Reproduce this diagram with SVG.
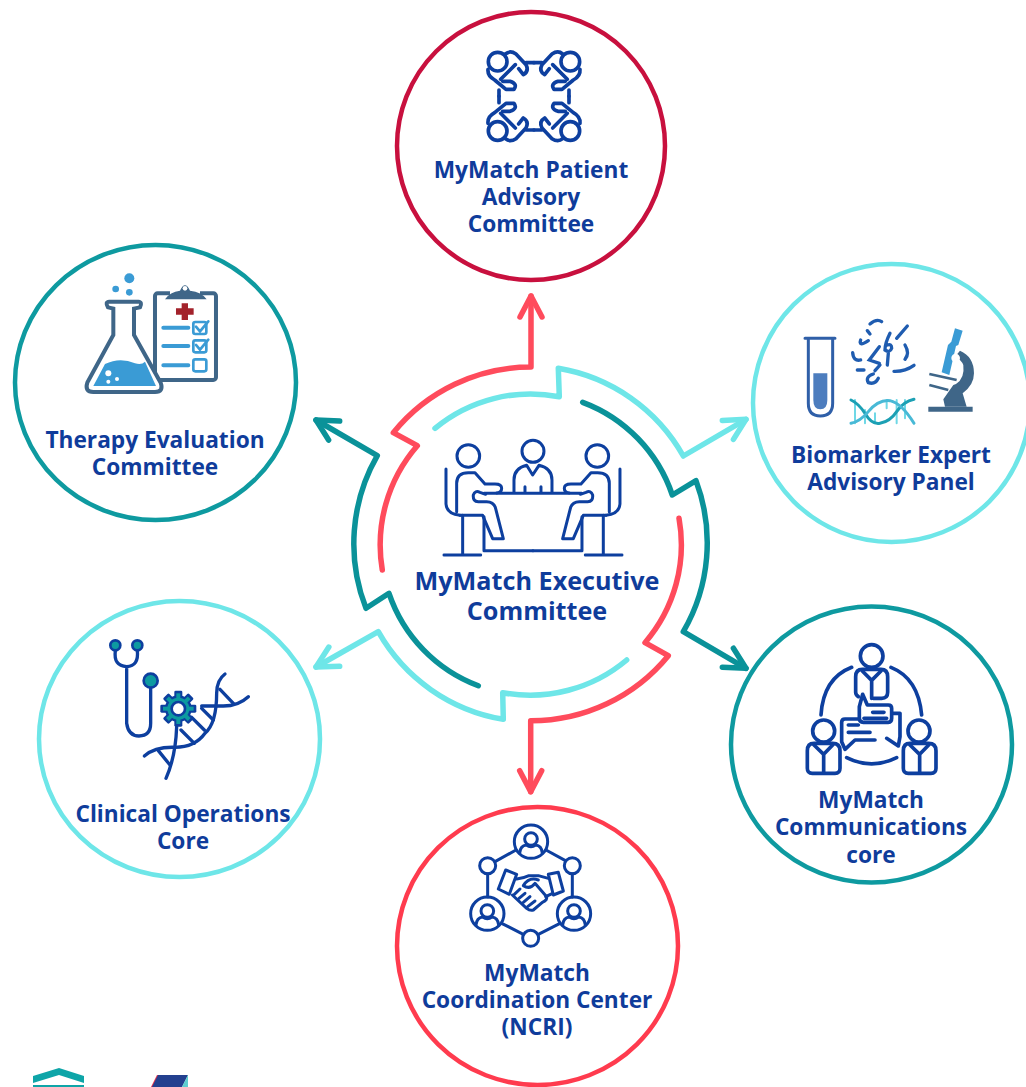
<svg xmlns="http://www.w3.org/2000/svg" width="1026" height="1087" viewBox="0 0 1026 1087">
<style>
.t{font-family:"Open Sans","Liberation Sans",sans-serif;font-weight:700;font-size:22.7px;fill:#0f3c9b;text-anchor:middle}
.c{fill:#fff;stroke-width:4.5}
.r{fill:none;stroke-width:5.5;stroke-linecap:round;stroke-linejoin:round}
.i{fill:none;stroke:#0d3f9f;stroke-linecap:round;stroke-linejoin:round}
.red{stroke:#ff4b5c}.cy{stroke:#6ee6e8}.te{stroke:#0a9299}
</style>
<defs>
<marker id="mr" markerUnits="userSpaceOnUse" viewBox="-30 -16 36 32" markerWidth="36" markerHeight="32" refX="0" refY="0" orient="auto"><path d="M-21,-11L0,0L-21,11" fill="none" stroke="#ff4b5c" stroke-width="5.5" stroke-linecap="round" stroke-linejoin="round"/></marker>
<marker id="mc" markerUnits="userSpaceOnUse" viewBox="-30 -16 36 32" markerWidth="36" markerHeight="32" refX="0" refY="0" orient="auto"><path d="M-21,-11L0,0L-21,11" fill="none" stroke="#6ee6e8" stroke-width="5.5" stroke-linecap="round" stroke-linejoin="round"/></marker>
<marker id="mt" markerUnits="userSpaceOnUse" viewBox="-30 -16 36 32" markerWidth="36" markerHeight="32" refX="0" refY="0" orient="auto"><path d="M-21,-11L0,0L-21,11" fill="none" stroke="#0a9299" stroke-width="5.5" stroke-linecap="round" stroke-linejoin="round"/></marker>
<g id="q1" class="i" stroke-width="11">
<circle cx="113" cy="95" r="28"/>
<path d="M136,72Q150,60 168,72L198,104Q208,124 190,134L176,116"/>
<path d="M84,118Q82,138 104,150L138,178H162Q174,162 150,154H128"/>
<path d="M122,148L166,104"/>
<path d="M198,98H222M117,180V199"/>
</g>
<g id="pl" class="i" stroke-width="9">
<path d="M318,567V672Q320,702 360,706"/>
<path d="M350,695V610Q350,578 385,578H405L435,612H465Q485,612 485,625Q485,638 470,639"/>
<path d="M368,706V825M312,825H422"/>
<path d="M360,706H428L458,776H490L466,682Q460,665 440,665H415Q398,665 400,645Q405,630 420,637L437,643"/>
<path d="M432,710V812H579"/>
</g>
<g id="bp" class="i" stroke-width="11">
<path d="M72,325H128Q150,325 150,347V400Q150,415 135,415H67Q52,415 52,400V347Q52,325 72,325Z"/>
<path d="M72,330L101,358L128,330M101,358V412"/>
</g>
<g id="hp" class="i" stroke-width="9">
<circle cx="0" cy="0" r="50"/><circle cx="0" cy="-8" r="19"/><path d="M-34,34Q-32,12 -14,10Q0,20 14,10Q32,12 34,34"/>
</g>
</defs>

<g id="connectors">
<path class="r red" marker-end="url(#mr)" d="M382.3,570A151,151 0 0 1 417.3,445.7L393.3,432.7A177,177 0 0 1 531,367V296"/>
<path class="r cy" marker-end="url(#mc)" d="M435,428.3A150,150 0 0 1 559.3,396.7L558.3,368.3A177,177 0 0 1 683.3,456L746,419.3"/>
<path class="r te" marker-end="url(#mt)" d="M582.7,402.3A150,150 0 0 1 672.3,495L696,480.7A177,177 0 0 1 683.3,631.7L746,668.3"/>
<path class="r red" marker-end="url(#mr)" d="M679,518.3A150,150 0 0 1 645,642.7L668.3,655.7A177,177 0 0 1 530.7,720.7V791.7"/>
<path class="r cy" marker-end="url(#mc)" d="M626.7,660A150,150 0 0 1 502.7,692.7L503.3,719.3A177,177 0 0 1 378.3,631.7L316,667"/>
<path class="r te" marker-end="url(#mt)" d="M478.3,685.7A150,150 0 0 1 389,593.3L366,608.3A177,177 0 0 1 377.3,455.7L316,420"/>
</g>

<g id="node-patient">
<ellipse class="c" cx="531" cy="146" rx="134" ry="134" stroke="#c8103e"/>
<g transform="translate(460,30) scale(.3333)">
<use href="#q1"/>
<use href="#q1" transform="translate(444,0) scale(-1,1)"/>
<use href="#q1" transform="translate(0,398) scale(1,-1)"/>
<use href="#q1" transform="translate(444,398) scale(-1,-1)"/>
</g>
<text class="t" x="531" y="178">MyMatch Patient<tspan x="531" dy="27">Advisory</tspan><tspan x="531" dy="27">Committee</tspan></text>
</g>

<g id="node-therapy">
<ellipse class="c" cx="155.500" cy="382.500" rx="140.500" ry="137.500" stroke="#0e9aa0"/>
<g transform="translate(70,260) scale(.3333)">
<rect x="255" y="100" width="183" height="260" rx="8" fill="#fff" stroke="#3f6688" stroke-width="12"/>
<rect x="300" y="90" width="90" height="16" fill="#fff"/>
<path d="M285,118Q300,95 330,92Q345,60 360,92Q395,95 410,118Z" fill="#3f6688"/><circle cx="345" cy="85" r="7" fill="#fff"/>
<path d="M335,130h19v15h17v19h-17v16h-19v-16h-17v-19h17z" fill="#a3222b"/>
<path d="M280,203H355M280,258H355M280,316H355" stroke="#3a9bd5" stroke-width="12" stroke-linecap="round"/>
<g fill="none" stroke="#3a9bd5" stroke-width="8"><rect x="370" y="186" width="39" height="36" rx="6"/><rect x="370" y="241" width="39" height="36" rx="6"/><rect x="370" y="298" width="39" height="36" rx="6"/><path d="M378,200L390,214L415,184M378,255L390,269L415,239" stroke-linecap="round"/></g>
<path d="M118,125H205Q218,126 210,142L192,146V225L272,368Q282,396 255,396H70Q43,396 52,368L130,225V146L114,142Q104,126 118,125Z" fill="#fff" stroke="#3f6688" stroke-width="12"/>
<path d="M70,378L105,312Q150,290 195,310Q215,316 225,305L258,378Z" fill="#3a9bd5"/>
<circle cx="115" cy="340" r="9" fill="#fff"/><circle cx="141" cy="357" r="6" fill="#fff"/><circle cx="115" cy="365" r="6" fill="#fff"/>
<circle cx="178" cy="55" r="15" fill="#3a9bd5"/><circle cx="137" cy="87" r="10" fill="#3a9bd5"/><circle cx="178" cy="97" r="10" fill="#3a9bd5"/>
</g>
<text class="t" x="155" y="448">Therapy Evaluation<tspan x="155" dy="27">Committee</tspan></text>
</g>

<g id="node-biomarker">
<ellipse class="c" cx="891.500" cy="403" rx="138.500" ry="139" stroke="#6ee6e8"/>
<g transform="translate(790,310) scale(.3333)">
<path d="M70,190H112V270Q112,298 91,298Q70,298 70,270Z" fill="#4d7dbe"/>
<path d="M45,85H135M55,90V280Q55,318 91,318Q128,318 128,280V90" fill="none" stroke="#2f5fa8" stroke-width="9" stroke-linecap="round"/>
<g fill="none" stroke="#1f5cb0" stroke-width="10" stroke-linecap="round">
<path d="M240,42Q260,25 275,35M352,48L320,85M232,62L240,72M212,90Q205,112 235,92M300,70Q285,100 285,120Q300,130 305,115Q305,100 292,105M188,128Q190,155 212,150M268,110L238,150L268,160M295,130L292,165M345,105Q360,130 345,148M202,180H222M312,184Q345,185 372,166M270,165L255,182M250,192Q225,200 235,218Q255,225 265,205"/>
</g>
<g fill="none" stroke-linecap="round">
<path d="M195,270V340M225,300V340M255,310V340M290,270V295M320,270V340M345,270V325" stroke="#6fd8e6" stroke-width="6"/>
<path d="M183,270Q205,280 225,310Q245,345 270,340Q300,335 320,305Q340,275 372,268" stroke="#1ca0b4" stroke-width="9"/>
<path d="M183,340Q210,335 235,305Q265,268 300,272Q335,280 372,340" stroke="#48b9d6" stroke-width="9"/>
</g>
<path d="M415,290H548V305H415Z" fill="#3f6688"/>
<path d="M510,122Q552,140 552,190Q552,225 518,250L530,290H465L460,268L490,225L498,222Q525,205 520,165Q515,150 495,140Z" fill="#3f6688"/>
<path d="M418,192L500,210M418,225L475,240" stroke="#3f6688" stroke-width="8"/>
<path d="M495,55L518,62L505,105L498,108L478,195L455,187L474,105L484,95Z" fill="#3a9bd5"/>
<circle cx="497" cy="144" r="13" fill="#fff"/>
</g>
<text class="t" x="891" y="463">Biomarker Expert<tspan x="891" dy="27">Advisory Panel</tspan></text>
</g>

<g id="node-communications">
<ellipse class="c" cx="871.500" cy="744.500" rx="140.500" ry="138" stroke="#0e9aa0"/>
<g transform="translate(790,635) scale(.3333)">
<g class="i" stroke-width="11">
<circle cx="245" cy="63" r="34"/><circle cx="101" cy="288" r="33"/><circle cx="387" cy="288" r="33"/>
<path d="M93,240Q100,130 185,97M303,97Q385,130 395,240M170,368Q245,405 320,368"/>
<path d="M205,185Q197,180 197,172V125Q197,103 217,103H273Q293,103 293,125V172Q293,190 275,190H250"/>
<path d="M217,108L245,136L273,108M245,136V190"/>
<path d="M205,252H165Q155,252 155,262V320L165,343L195,315H255M310,235H330V305L325,333L290,310"/>
<path d="M218,178L232,210H295Q305,210 305,220V250Q305,262 295,262H220Q208,262 208,250V215Z"/>
<path d="M248,232H282M222,250H290M175,270H205M175,292H240"/>
</g>
<use href="#bp"/><use href="#bp" transform="translate(288,0)"/>
</g>
<text class="t" x="871" y="808">MyMatch<tspan x="871" dy="27">Communications</tspan><tspan x="871" dy="28">core</tspan></text>
</g>

<g id="node-coordination">
<ellipse class="c" cx="537.500" cy="946" rx="140.500" ry="139" stroke="#ff3b4e"/>
<g transform="translate(455,815) scale(.3333)">
<path class="i" stroke-width="9" d="M273,105L330,136M183,105L120,140M98,176V246M352,176V246M140,325L205,358M250,358L315,325"/>
<use href="#hp" transform="translate(228,80)"/><use href="#hp" transform="translate(97,296)"/><use href="#hp" transform="translate(357,296)"/>
<g class="i" stroke-width="9">
<circle cx="98" cy="152" r="24"/><circle cx="352" cy="152" r="24"/><circle cx="227" cy="370" r="24"/>
<path d="M152,165L185,178L163,238L130,222ZM280,178L310,172L325,228L295,240Z"/>
<path d="M185,192Q205,190 222,182H250L280,190M293,235L272,245"/>
<path d="M205,212Q222,185 250,195M205,212Q225,225 240,205L275,245Q278,255 262,262L235,285Q225,288 215,280L172,240"/>
<path d="M178,238L195,222M192,250L210,235M205,262L225,245M218,275L240,258"/>
</g>
</g>
<text class="t" x="537" y="981">MyMatch<tspan x="537" dy="27">Coordination Center</tspan><tspan x="537" dy="27">(NCRI)</tspan></text>
</g>

<g id="node-clinical">
<ellipse class="c" cx="179.500" cy="739" rx="140.500" ry="138" stroke="#6ee6e8"/>
<g transform="translate(95,630) scale(.3333)">
<g class="i" stroke-width="10">
<path d="M61,62Q55,108 95,110Q132,108 127,62M95,110V280Q100,318 132,318Q167,318 167,280V172"/>
<path d="M460,200Q430,228 385,228H320M245,290Q242,380 213,445"/>
<path d="M390,132Q365,150 365,190Q365,280 330,310Q300,352 240,352Q180,350 148,378"/>
<path d="M190,362L225,405M375,178L415,220M320,235L355,270M290,262L328,300M258,300L298,340"/>
</g>
<g stroke="#0d3f9f" stroke-width="8">
<circle cx="61" cy="46" r="15" fill="#0d9aa0"/><circle cx="127" cy="46" r="15" fill="#0d9aa0"/><circle cx="167" cy="152" r="21" fill="#0d9aa0"/>
</g>
<g transform="translate(250,236)">
<g fill="#0d3f9f"><circle r="40"/><rect x="-12" y="-54" width="24" height="108" rx="4"/><rect x="-12" y="-54" width="24" height="108" rx="4" transform="rotate(45)"/><rect x="-12" y="-54" width="24" height="108" rx="4" transform="rotate(90)"/><rect x="-12" y="-54" width="24" height="108" rx="4" transform="rotate(135)"/></g>
<g fill="#0d9aa0"><circle r="33"/><rect x="-6" y="-46" width="12" height="92"/><rect x="-6" y="-46" width="12" height="92" transform="rotate(45)"/><rect x="-6" y="-46" width="12" height="92" transform="rotate(90)"/><rect x="-6" y="-46" width="12" height="92" transform="rotate(135)"/></g>
<circle r="20" fill="#fff" stroke="#0d3f9f" stroke-width="8"/>
</g>
</g>
<text class="t" x="183" y="822">Clinical Operations<tspan x="183" dy="27">Core</tspan></text>
</g>

<g id="node-executive">
<g transform="translate(340,280) scale(.3333)">
<use href="#pl"/><use href="#pl" transform="translate(1158,0) scale(-1,1)"/>
<g class="i" stroke-width="9">
<circle cx="385" cy="528" r="34"/><circle cx="579" cy="514" r="33"/><circle cx="772" cy="528" r="34"/>
<path d="M522,638V600Q522,565 560,556L578,585L597,556Q636,565 636,600V638M555,620V638M603,620V638M432,640H725"/>
</g>
</g>
<text class="t" style="font-size:25.2px" x="537" y="590">MyMatch Executive<tspan x="537" dy="30">Committee</tspan></text>
</g>

<g id="logos">
<path d="M33,1076L59,1068L84,1076V1083L59,1075L33,1083Z" fill="#0ea5a8"/><rect x="33" y="1085" width="51" height="2" fill="#0ea5a8"/>
<path d="M151,1087L157,1075H159L154,1087Z" fill="#e8304a"/><path d="M158,1075H188L182,1087H152Z" fill="#23408f"/><path d="M188,1075V1087H182Z" fill="#5ecfd0"/>
</g>
</svg>
